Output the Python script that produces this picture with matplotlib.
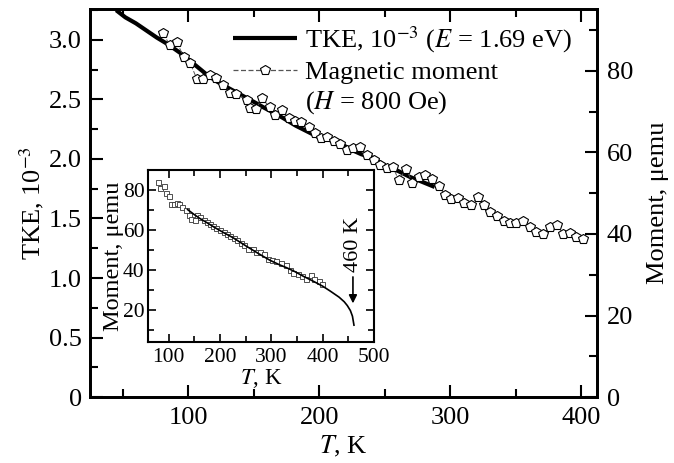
import matplotlib
matplotlib.use("Agg")
import matplotlib.pyplot as plt
from matplotlib.lines import Line2D
from matplotlib.ticker import MultipleLocator

plt.rcParams["font.family"] = ["Liberation Serif", "DejaVu Serif"]
plt.rcParams["mathtext.fontset"] = "stix"

# ----------------------------
# Data
# ----------------------------
# TKE, thick line (left axis)
tke_T = [45, 52, 60, 68, 76, 85, 94, 103, 114, 122, 130, 140, 150, 158, 165,
         173, 182, 191, 200, 208, 216, 224, 232, 241, 252, 260, 269, 278, 288]
tke_val = [3.25, 3.19, 3.14, 3.08, 3.02, 2.96, 2.89, 2.81, 2.71, 2.65, 2.60,
           2.54, 2.48, 2.43, 2.39, 2.34, 2.28, 2.23, 2.18, 2.16, 2.13, 2.08,
           2.04, 2.01, 1.93, 1.90, 1.85, 1.81, 1.765]

# Magnetic moment, pentagons (right axis)
mom_T = [81, 85.7, 91.4, 96.4, 101.5, 106.6, 111, 116.8, 121.4, 126.5, 132,
         136.6, 144.8, 146.8, 151.9, 156, 162, 166.4, 171.5, 176.6, 181.7, 186,
         191.9, 197, 201.3, 205.9, 211, 216, 221, 226, 231, 236, 241.5, 246.6,
         251.7, 256, 260.5, 266.4, 271, 275.8, 280.9, 286, 291, 295.7, 300.8,
         305.6, 310.7, 315.8, 320.8, 325.6, 330.5, 335.6, 340.7, 345.8, 350.4,
         355.5, 360.5, 365.6, 370.8, 375.8, 381, 386, 391, 396, 401.3]
mom_val = [89.2, 86.4, 87.0, 83.5, 81.9, 78.0, 78.0, 79.0, 78.2, 76.6, 74.7,
           74.4, 72.9, 70.8, 70.6, 73.3, 71.2, 69.2, 70.4, 68.4, 67.8, 67.6,
           66.2, 64.7, 63.5, 63.9, 62.7, 62.1, 60.6, 61.0, 61.4, 59.4, 58.2,
           56.9, 56.1, 56.5, 53.3, 55.9, 52.6, 53.9, 54.4, 53.6, 51.8, 49.6,
           48.6, 48.9, 47.7, 47.1, 49.1, 47.1, 45.5, 44.4, 43.3, 42.8, 42.8,
           43.3, 41.8, 40.4, 40.0, 41.6, 42.3, 39.9, 40.3, 39.2, 38.7]

# Inset: measured moment (squares) and fit curve
ins_T = [79, 84, 90.8, 95, 101.6, 104.8, 111, 116, 121, 127, 133.6, 140,
         144.6, 151, 156, 161, 169, 174, 180.4, 187, 193, 201, 207, 214, 220,
         228, 234, 240.8, 247, 255, 264, 270, 278, 285.6, 294, 302, 310,
         319.6, 328, 335.6, 343, 351.5, 360, 367.7, 377, 383.6, 392, 399.6]
ins_val = [84.2, 81.3, 82, 78.7, 77, 73.3, 73.3, 73.7, 73.3, 71.7, 70, 67.5,
           65.8, 65.3, 67.8, 66.7, 65, 64.2, 63, 62, 61.3, 60, 59.2, 58, 57,
           56.3, 55, 53.7, 52.5, 50.8, 50.8, 49.2, 49.2, 48, 45.8, 45, 44.7,
           43.7, 42.5, 40.3, 38.7, 38, 37, 35.8, 37.5, 35.8, 34.7, 33.3]
fit_T = [137, 150, 160, 175, 190, 207, 225, 252, 275, 297, 315, 330, 345,
         362, 380, 400, 415, 432, 442, 448, 454, 458, 461]
fit_val = [70.3, 67.8, 66, 63.7, 61.3, 58.8, 56.3, 51.9, 48.3, 45, 42.8, 41.2,
           39.4, 37, 34.7, 32, 29.5, 26.5, 24.2, 22.3, 19.8, 17, 12.5]

# ----------------------------
# Figure
# ----------------------------
fig = plt.figure(figsize=(6.74, 4.63), dpi=100)
ax = fig.add_axes([0.1335, 0.1425, 0.7525, 0.838])
ax2 = ax.twinx()

FS = 19
tke_line, = ax.plot(tke_T, tke_val, color="black", lw=3.0, solid_capstyle="butt",
                    zorder=3)
ax.set_xlim(25, 412)
ax.set_ylim(0, 3.26)
ax.xaxis.set_major_locator(MultipleLocator(100))
ax.xaxis.set_minor_locator(MultipleLocator(50))
ax.yaxis.set_minor_locator(MultipleLocator(0.25))
ax.set_yticks([0, 0.5, 1.0, 1.5, 2.0, 2.5, 3.0])
ax.set_yticklabels(["0", "0.5", "1.0", "1.5", "2.0", "2.5", "3.0"])
ax.tick_params(which="both", direction="in", top=True, labelsize=FS, width=1.5)
ax.tick_params(which="major", length=9)
ax.tick_params(which="minor", length=6)
ax.tick_params(axis="x", pad=7)
ax.tick_params(axis="y", pad=6)
ax.set_xlabel("$T$, K", fontsize=FS, labelpad=4)
ax.set_ylabel("TKE, 10$^{-3}$", fontsize=FS, labelpad=2)

mom_line, = ax2.plot(mom_T, mom_val, color="#555555", lw=0.7, ls=(0, (5, 2)),
                     marker="p", ms=7, mfc="white", mec="black", mew=0.8)
ax2.set_ylim(0, 95.2)
ax2.yaxis.set_major_locator(MultipleLocator(20))
ax2.yaxis.set_minor_locator(MultipleLocator(10))
ax2.tick_params(which="both", direction="in", labelsize=FS, width=1.5, pad=7)
ax2.tick_params(which="major", length=9)
ax2.tick_params(which="minor", length=6)
ax2.set_ylabel("Moment, μemu", fontsize=FS, labelpad=10)

for a in (ax, ax2):
    for sp in a.spines.values():
        sp.set_linewidth(2)

blank = Line2D([], [], color="none")
leg_mom = Line2D([], [], color="#555555", lw=0.9, ls=(0, (4, 2)),
                 marker="p", ms=7, mfc="white", mec="black", mew=0.8)
ax2.legend([tke_line, leg_mom, blank],
           ["TKE, 10$^{-3}$ ($E$ = 1.69 eV)", "Magnetic moment",
            "($H$ = 800 Oe)"],
           loc="upper right", bbox_to_anchor=(0.96, 0.975), frameon=False,
           fontsize=FS, handlelength=2.4, handletextpad=0.3,
           labelspacing=0.22, borderaxespad=0, borderpad=0.2)

# ----------------------------
# Inset
# ----------------------------
ins = fig.add_axes([0.2196, 0.261, 0.3353, 0.3715])
ins.set_facecolor("white")
ins.plot(ins_T, ins_val, ls="none", marker="s", ms=3.6, mfc="white",
         mec="#333333", mew=0.6)
ins.plot(fit_T, fit_val, color="black", lw=1.2)
ins.set_xlim(60, 500)
ins.set_ylim(4, 90)
ins.xaxis.set_major_locator(MultipleLocator(100))
ins.xaxis.set_minor_locator(MultipleLocator(50))
ins.yaxis.set_major_locator(MultipleLocator(20))
ins.yaxis.set_minor_locator(MultipleLocator(10))
IFS = 15.5
ins.tick_params(which="both", direction="in", top=True, right=True,
                labelsize=IFS, width=1.2)
ins.tick_params(which="major", length=6)
ins.tick_params(which="minor", length=4)
ins.tick_params(axis="x", pad=4)
ins.tick_params(axis="y", pad=2.5)
ins.set_xlabel("$T$, K", fontsize=16.5, labelpad=0)
ins.set_ylabel("Moment, μemu", fontsize=17.5, labelpad=-1)
for sp in ins.spines.values():
    sp.set_linewidth(1.5)

ins.annotate("", xy=(459, 22), xytext=(459, 38),
             arrowprops=dict(arrowstyle="-|>", color="black", lw=1.2,
                             mutation_scale=12))
ins.text(461, 53, "460 K", rotation=90, ha="center", va="center",
         fontsize=16)

fig.savefig("out.png", dpi=100)
